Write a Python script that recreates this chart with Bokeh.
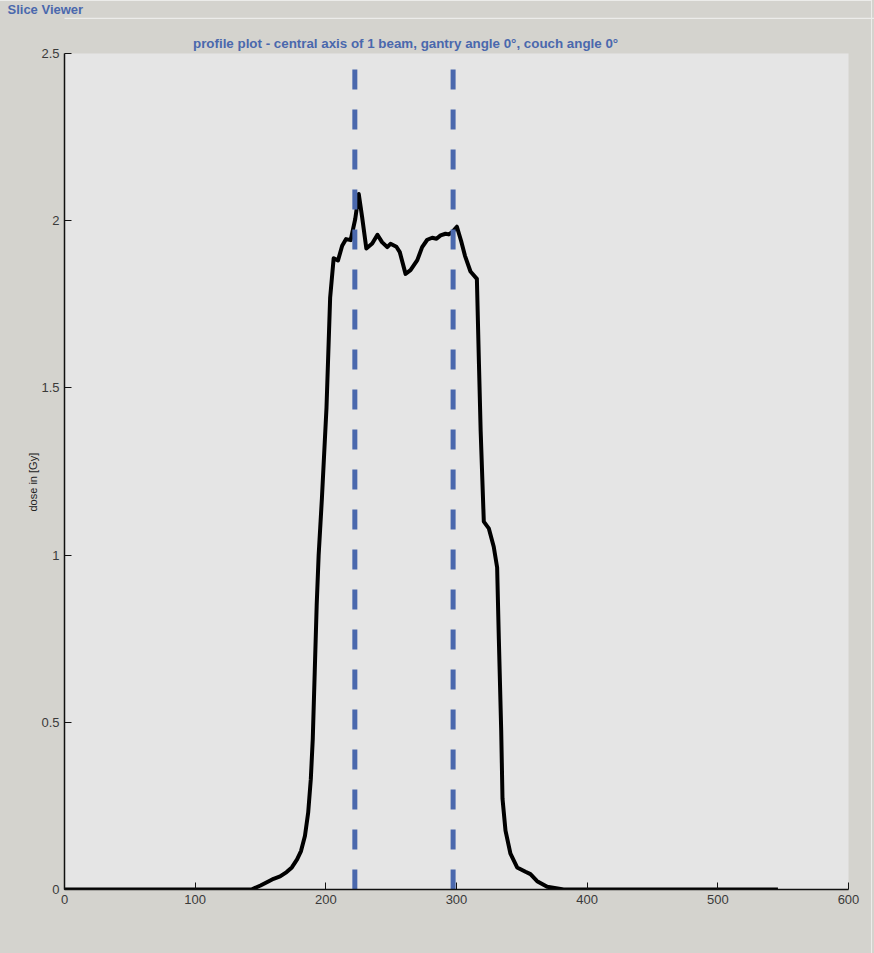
from bokeh.plotting import figure
from bokeh.models import (Range1d, FixedTicker, CustomJSTickFormatter, Label, BoxAnnotation,
                          ColumnDataSource, Title)
from bokeh.embed import file_html
from bokeh.resources import INLINE

# ---- data ----
position = [0, 143, 150, 156, 160, 165, 170, 174, 178, 181, 184, 186.5, 188.5, 190, 191.5,
            193, 194.5, 197, 200.5, 203.3, 206, 209.3, 212.5, 215.5, 219, 222.5, 225.2,
            227.8, 231, 235.5, 239.5, 243, 247, 249.5, 254, 256.6, 261, 264.8, 270, 273.7,
            277.6, 281.4, 284.7, 287.8, 291.6, 294.1, 296.7, 300.3, 303.5, 306.5, 310.7,
            315.6, 317.2, 318.5, 320.9, 324.7, 328.5, 331.1, 332.4, 334.2, 335.2, 337.5,
            341.3, 346.4, 352.8, 356.6, 361.7, 369.4, 382, 546]
dose = [0, 0, 0.012, 0.024, 0.032, 0.039, 0.052, 0.066, 0.09, 0.115, 0.16, 0.23, 0.33, 0.45,
        0.65, 0.85, 1.0, 1.17, 1.44, 1.77, 1.888, 1.881, 1.925, 1.945, 1.942, 2.005, 2.08,
        2.01, 1.917, 1.932, 1.958, 1.936, 1.921, 1.931, 1.922, 1.906, 1.841, 1.852, 1.882,
        1.921, 1.943, 1.949, 1.946, 1.956, 1.961, 1.959, 1.966, 1.982, 1.94, 1.895, 1.848,
        1.826, 1.57, 1.37, 1.1, 1.08, 1.025, 0.963, 0.75, 0.477, 0.272, 0.176, 0.107, 0.066,
        0.053, 0.046, 0.025, 0.008, 0, 0]
beam_edges = [222.2, 297.4]
x_ticks = [0, 100, 200, 300, 400, 500, 600]
y_ticks = [0, 0.5, 1, 1.5, 2, 2.5]
x_limits = (0, 600)
y_limits = (0, 2.5)

title_text = "profile plot - central axis of 1 beam, gantry angle 0\u00b0, couch angle 0\u00b0"
header_text = "Slice Viewer"
y_label = "dose in [Gy]"

PANEL = "#d4d3ce"
PLOTBG = "#e5e5e5"
BLUE = "#4a68ad"
LINE = "#ececea"
FONT = "Liberation Sans"

# layout (page pixels): plot box 64..848 x 53..889, frame extends to top 17 / right 874
W, H = 874, 953
LEFT, BOTTOM, FRAME_TOP = 64, 889, 17
sx = (848 - 64) / (x_limits[1] - x_limits[0])
sy = (889 - 53) / (y_limits[1] - y_limits[0])

def dx(px):
    return (px - LEFT) / sx

def dy(py):
    return (BOTTOM - py) / sy

p = figure(width=W, height=H, output_backend="svg", toolbar_location=None,
           x_range=Range1d(x_limits[0], dx(W)), y_range=Range1d(y_limits[0], dy(FRAME_TOP)),
           min_border_left=LEFT, min_border_right=0, min_border_top=FRAME_TOP,
           min_border_bottom=H - BOTTOM)
p.border_fill_color = PANEL
p.background_fill_color = PANEL
p.outline_line_color = None
p.xgrid.visible = False
p.ygrid.visible = False

# header as a title in the top panel
p.title = Title(text=header_text, align="left", offset=7 - LEFT, standoff=0,
                vertical_align="middle", text_font=FONT, text_font_size="13px",
                text_font_style="bold", text_color=BLUE)

# plot box background
p.add_layout(BoxAnnotation(left=x_limits[0], right=x_limits[1], bottom=y_limits[0],
                           top=y_limits[1], fill_color=PLOTBG, fill_alpha=1,
                           line_color=None, level="underlay"))
# header separator line
p.add_layout(BoxAnnotation(left=dx(0), right=dx(W), bottom=dy(18.6), top=dy(17),
                           fill_color=LINE, fill_alpha=1, line_color=None, level="underlay"))

for ax in (p.xaxis[0], p.yaxis[0]):
    ax.axis_line_color = "#111111"
    ax.axis_line_width = 1.5
    ax.major_tick_in = 7
    ax.major_tick_out = 0
    ax.major_tick_line_color = "#111111"
    ax.major_tick_line_width = 1
    ax.minor_tick_line_color = None
    ax.major_label_text_font = FONT
    ax.major_label_text_font_size = "13px"
    ax.major_label_text_color = "#3a3a3a"
    ax.major_label_standoff = 5
    ax.formatter = CustomJSTickFormatter(code="return String(tick);")

p.xaxis[0].ticker = FixedTicker(ticks=x_ticks)
p.yaxis[0].ticker = FixedTicker(ticks=y_ticks)
p.xaxis[0].bounds = x_limits
p.yaxis[0].bounds = y_limits

# y axis label, positioned along the plot box (not the taller frame)
p.add_layout(Title(text=y_label, align="left", offset=BOTTOM - 511, standoff=0,
                   vertical_align="bottom", text_font=FONT, text_font_size="11px",
                   text_font_style="normal", text_color="#222222"), "left")

src = ColumnDataSource(dict(x=position, y=dose))
p.line("x", "y", source=src, line_color="black", line_width=4, line_join="round")

edge_src = ColumnDataSource(dict(x0=beam_edges, y0=[y_limits[0]] * len(beam_edges),
                                 x1=beam_edges, y1=[y_limits[1]] * len(beam_edges)))
p.segment("x0", "y0", "x1", "y1", source=edge_src, line_color=BLUE, line_width=5,
          line_dash="20 20")

p.add_layout(Label(x=dx(192.5), y=dy(43), text=title_text, text_font=FONT,
                   text_font_size="13.35px", text_font_style="bold", text_color=BLUE,
                   text_baseline="middle", text_align="left"))

html = file_html(p, INLINE)
css = ("<style>html,body{margin:0;padding:0;background:%s;overflow:hidden;}"
       "body::after{content:'';position:fixed;left:0;top:0;width:871px;height:953px;"
       "border-top:1px solid %s;border-right:1.5px solid %s;pointer-events:none;z-index:50;}"
       "</style></head>") % (PANEL, LINE, LINE)
html = html.replace("</head>", css, 1)
open("out.html", "w").write(html)
